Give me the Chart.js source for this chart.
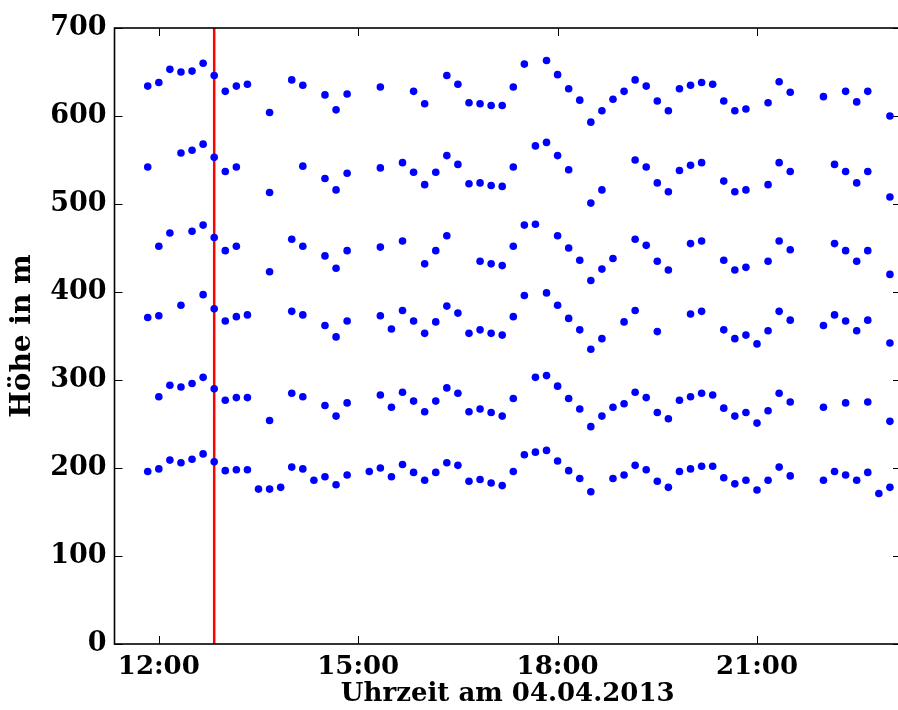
<!DOCTYPE html>
<html>
<head>
<meta charset="utf-8">
<title>Höhe</title>
<script src="https://cdn.jsdelivr.net/npm/chart.js@4.4.1/dist/chart.umd.min.js"></script>
<style>
    html, body { margin: 0; padding: 0; background: #fff; overflow: hidden; }
    #wrap { width: 898px; height: 710px; overflow: hidden; }
    canvas { display: block; }
</style>
</head>
<body>
<div id="wrap"><canvas id="hoehenChart" width="905" height="710"></canvas></div>
<script>
// Messzeitpunkte (alle 10 Minuten)
const zeiten = [
    '11:50', '12:00', '12:10', '12:20', '12:30', '12:40', '12:50', '13:00', '13:10', '13:20',
    '13:30', '13:40', '13:50', '14:00', '14:10', '14:20', '14:30', '14:40', '14:50', '15:00',
    '15:10', '15:20', '15:30', '15:40', '15:50', '16:00', '16:10', '16:20', '16:30', '16:40',
    '16:50', '17:00', '17:10', '17:20', '17:30', '17:40', '17:50', '18:00', '18:10', '18:20',
    '18:30', '18:40', '18:50', '19:00', '19:10', '19:20', '19:30', '19:40', '19:50', '20:00',
    '20:10', '20:20', '20:30', '20:40', '20:50', '21:00', '21:10', '21:20', '21:30', '21:40',
    '21:50', '22:00', '22:10', '22:20', '22:30', '22:40', '22:50', '23:00'
];

// Höhen der sechs Schichten in m (null = kein Wert)
const schicht1 = [
    196, 199, 209, 206, 210, 216, 207, 197, 198, 198,
    176, 176, 178, 201, 199, 186, 190, 181, 192, null,
    196, 200, 190, 204, 195, 186, 195, 206, 203, 185,
    187, 183, 180, 196, 215, 218, 220, 208, 197, 188,
    173, null, 188, 192, 203, 198, 185, 178, 196, 199,
    202, 202, 189, 182, 186, 175, 186, 201, 191, null,
    null, 186, 196, 192, 186, 195, 171, 178
];
const schicht2 = [
    null, 281, 294, 292, 296, 303, 290, 277, 280, 280,
    null, 254, null, 285, 281, null, 271, 259, 274, null,
    null, 283, 269, 286, 276, 264, 276, 291, 285, 264,
    267, 263, 259, 279, null, 303, 305, 293, 279, 267,
    247, 259, 269, 273, 286, 280, 263, 256, 277, 281,
    285, 283, 268, 259, 263, 251, 265, 285, 275, null,
    null, 269, null, 274, null, 275, null, 253
];
const schicht3 = [
    371, 373, null, 385, null, 397, 381, 367, 372, 374,
    null, null, null, 378, 374, null, 362, 349, 367, null,
    null, 373, 358, 379, 367, 353, 366, 384, 376, 353,
    357, 353, 351, 372, 396, null, 399, 385, 370, 357,
    335, 347, null, 366, 379, null, 355, null, null, 375,
    378, null, 357, 347, 351, 341, 356, 378, 368, null,
    null, 362, 374, 367, 356, 368, null, 342
];
const schicht4 = [
    null, 452, 467, null, 469, 476, 462, 447, 452, null,
    null, 423, null, 460, 452, null, 441, 427, 447, null,
    null, 451, null, 458, null, 432, 447, 464, null, null,
    435, 432, 430, 452, 476, 477, null, 464, 450, 436,
    413, 426, 438, null, 460, 453, 435, 425, null, 455,
    458, null, 436, 425, 428, null, 435, 458, 448, null,
    null, null, 455, 447, 435, 447, null, 420
];
const schicht5 = [
    542, null, null, 558, 561, 568, 553, 537, 542, null,
    null, 513, null, null, 543, null, 529, 516, 535, null,
    null, 541, null, 547, 536, 522, 536, 555, 545, 523,
    524, 521, 520, 542, null, 566, 570, 555, 539, null,
    501, 516, null, null, 550, 542, 524, 514, 538, 544,
    547, null, 526, 514, 516, null, 522, 547, 537, null,
    null, null, 545, 537, 524, 537, null, 508
];
const schicht6 = [
    634, 638, 653, 650, 651, 660, 646, 628, 634, 636,
    null, 604, null, 641, 635, null, 624, 607, 625, null,
    null, 633, null, null, 628, 614, null, 646, 636, 615,
    614, 612, 612, 633, 659, null, 663, 647, 631, 618,
    593, 606, 619, 628, 641, 634, 617, 606, 631, 635,
    638, 636, 617, 606, 608, null, 615, 639, 627, null,
    null, 622, null, 628, 616, 628, null, 600
];

const xTicks = ['12:00', '15:00', '18:00', '21:00'];
const yTicks = [0, 100, 200, 300, 400, 500, 600, 700];
const markierung = '12:50';
const xBereich = ['11:20', '23:10'];

const schrift = 'DejaVu Serif';

function zuMinuten(t) {
    const [h, m] = t.split(':').map(Number);
    return h * 60 + m;
}

function punkte(werte) {
    return zeiten
        .map((t, i) => ({ x: zuMinuten(t), y: werte[i] }))
        .filter(p => p.y !== null);
}

// Rahmen und nach innen zeigende Ticks auf allen vier Seiten
const rahmenPlugin = {
    id: 'rahmen',
    afterDatasetsDraw(chart) {
        const { ctx, chartArea: a, scales } = chart;
        const len = 8;
        ctx.save();
        ctx.strokeStyle = '#000';
        ctx.lineWidth = 1;
        ctx.beginPath();
        xTicks.forEach(t => {
            const px = Math.round(scales.x.getPixelForValue(zuMinuten(t))) + 0.5;
            ctx.moveTo(px, a.bottom); ctx.lineTo(px, a.bottom - len);
            ctx.moveTo(px, a.top); ctx.lineTo(px, a.top + len);
        });
        yTicks.forEach(v => {
            const py = Math.round(scales.y.getPixelForValue(v)) + 0.5;
            ctx.moveTo(a.left, py); ctx.lineTo(a.left + len, py);
            ctx.moveTo(a.right, py); ctx.lineTo(a.right - len, py);
        });
        ctx.stroke();
        ctx.lineWidth = 1.6;
        ctx.strokeRect(a.left, a.top, a.right - a.left, a.bottom - a.top);
        ctx.restore();
    }
};

const punktStil = {
    type: 'scatter',
    showLine: false,
    pointRadius: 3.8,
    pointBackgroundColor: '#0000ff',
    pointBorderWidth: 0,
    order: 1
};

const datasets = [schicht1, schicht2, schicht3, schicht4, schicht5, schicht6].map(s => ({
    ...punktStil,
    data: punkte(s)
}));

// rote Markierung
datasets.push({
    type: 'line',
    data: [
        { x: zuMinuten(markierung), y: yTicks[0] },
        { x: zuMinuten(markierung), y: yTicks[yTicks.length - 1] }
    ],
    borderColor: '#ff0000',
    borderWidth: 2.5,
    pointRadius: 0,
    order: 5
});

new Chart(document.getElementById('hoehenChart'), {
    type: 'scatter',
    data: { datasets: datasets },
    options: {
        responsive: false,
        animation: false,
        devicePixelRatio: 1,
        layout: { padding: { top: 28, right: 0, left: 0, bottom: 0 } },
        plugins: {
            legend: { display: false },
            tooltip: { enabled: false }
        },
        scales: {
            x: {
                type: 'linear',
                min: zuMinuten(xBereich[0]),
                max: zuMinuten(xBereich[1]),
                grid: { display: false, drawTicks: false },
                border: { display: false },
                afterBuildTicks: scale => {
                    scale.ticks = xTicks.map(t => ({ value: zuMinuten(t) }));
                },
                afterFit: scale => { scale.height = 66; },
                ticks: {
                    padding: 8,
                    color: '#000',
                    maxRotation: 0,
                    font: { family: schrift, weight: 'bold', size: 26 },
                    callback: (v) => xTicks.find(t => zuMinuten(t) === v) || ''
                },
                title: {
                    display: true,
                    text: 'Uhrzeit am 04.04.2013',
                    color: '#000',
                    font: { family: schrift, weight: 'bold', size: 26 },
                    padding: { top: 0, bottom: 0 }
                }
            },
            y: {
                min: yTicks[0],
                max: yTicks[yTicks.length - 1],
                grid: { display: false, drawTicks: false },
                border: { display: false },
                afterBuildTicks: scale => {
                    scale.ticks = yTicks.map(v => ({ value: v }));
                },
                afterFit: scale => { scale.width = 114.5; },
                ticks: {
                    padding: 8,
                    color: '#000',
                    font: { family: schrift, weight: 'bold', size: 27 }
                },
                title: {
                    display: true,
                    text: 'Höhe in m',
                    color: '#000',
                    font: { family: schrift, weight: 'bold', size: 28 },
                    padding: { top: 6, bottom: 0 }
                }
            }
        }
    },
    plugins: [rahmenPlugin]
});
</script>
</body>
</html>
